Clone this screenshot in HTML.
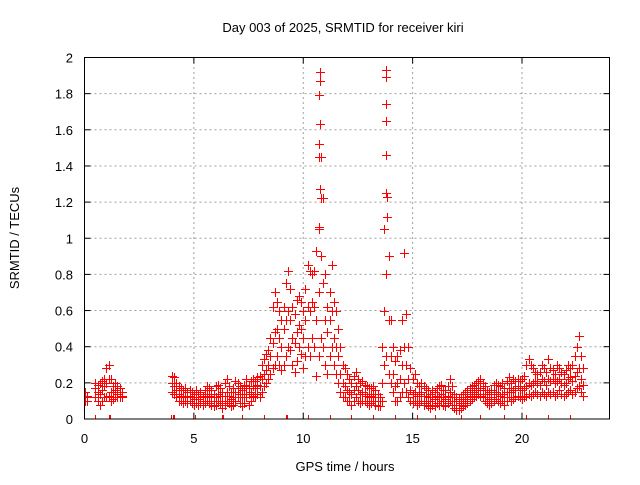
<!DOCTYPE html>
<html><head><meta charset="utf-8"><style>
body{margin:0;background:#fff}
svg text{font-family:"Liberation Sans",sans-serif;font-size:13px;fill:#000}
</style></head><body>
<svg id="chart" width="640" height="480" viewBox="0 0 640 480" xmlns="http://www.w3.org/2000/svg">
<text x="343" y="32" text-anchor="middle">Day 003 of 2025, SRMTID for receiver kiri</text>
<text x="345" y="471" text-anchor="middle">GPS time / hours</text>
<text x="19" y="238" text-anchor="middle" transform="rotate(-90 19 238)">SRMTID / TECUs</text>
<g id="grid"></g>
<g id="ticks"></g>
<defs><clipPath id="pc"><rect x="84.5" y="57.5" width="525" height="361.5"/></clipPath></defs>
<g id="marks" clip-path="url(#pc)"></g>
<rect x="84.5" y="57.5" width="525" height="361.5" fill="none" stroke="#000" stroke-width="1"/>
</svg>
<script>
const times=[0,0.1,0.5,0.6,0.7,0.8,0.9,1.0,1.1,1.2,1.3,1.4,1.5,1.6,1.7,
4.0,4.1,4.2,4.3,4.4,4.5,4.6,4.7,4.8,4.9,5.0,5.1,5.2,5.3,5.4,5.5,5.6,5.7,5.8,5.9,
6.0,6.1,6.2,6.3,6.4,6.5,6.6,6.7,6.8,6.9,7.0,7.1,7.2,7.3,7.4,7.5,7.6,7.7,7.8,7.9,
8.0,8.1,8.2,8.3,8.4,8.5,8.6,8.7,8.8,8.9,9.0,9.1,9.2,9.3,9.4,9.5,9.6,9.7,9.8,9.9,
10.0,10.1,10.2,10.3,10.4,10.5,10.6,10.7,10.8,10.9,11.0,11.1,11.2,11.3,11.4,11.5,11.6,11.7,11.8,11.9,
12.0,12.1,12.2,12.3,12.4,12.5,12.6,12.7,12.8,12.9,13.0,13.1,13.2,13.3,13.4,13.5,13.6,13.7,13.8,13.9,
14.0,14.1,14.2,14.3,14.4,14.5,14.6,14.7,14.8,14.9,15.0,15.1,15.2,15.3,15.4,15.5,15.6,15.7,15.8,15.9,
16.0,16.1,16.2,16.3,16.4,16.5,16.6,16.7,16.8,16.9,17.0,17.1,17.2,17.3,17.4,17.5,17.6,17.7,17.8,17.9,
18.0,18.1,18.2,18.3,18.4,18.5,18.6,18.7,18.8,18.9,19.0,19.1,19.2,19.3,19.4,19.5,19.6,19.7,19.8,19.9,
20.0,20.1,20.2,20.3,20.4,20.5,20.6,20.7,20.8,20.9,21.0,21.1,21.2,21.3,21.4,21.5,21.6,21.7,21.8,21.9,
22.0,22.1,22.2,22.3,22.4,22.5,22.6,22.7,22.8];
const low=[.10,.10,.12,.10,.08,.10,.12,.12,.13,.10,.11,.12,.12,.12,.12,
.15,.14,.12,.10,.10,.09,.10,.09,.10,.09,.08,.09,.08,.09,.08,.09,.10,.09,.08,.07,
.08,.10,.09,.06,.08,.10,.09,.07,.08,.10,.12,.09,.07,.09,.12,.08,.10,.13,.12,.14,
.12,.15,.18,.20,.22,.25,.28,.30,.35,.30,.27,.30,.35,.40,.38,.30,.26,.32,.40,.36,
.28,.35,.40,.35,.45,.40,.24,.35,.45,.40,.30,.25,.35,.40,.30,.25,.20,.15,.12,.12,
.10,.10,.08,.10,.12,.10,.09,.10,.10,.09,.08,.09,.10,.08,.07,.07,.10,.30,.35,.25,
.20,.15,.10,.10,.12,.15,.20,.15,.12,.10,.09,.10,.08,.09,.10,.08,.09,.07,.06,.08,
.07,.09,.08,.10,.08,.07,.09,.10,.08,.06,.05,.05,.06,.07,.08,.09,.10,.11,.12,.13,
.14,.13,.12,.10,.09,.08,.09,.10,.11,.10,.09,.10,.08,.10,.12,.10,.11,.12,.13,.12,
.11,.12,.13,.14,.13,.14,.15,.14,.13,.15,.14,.13,.15,.14,.15,.13,.14,.16,.14,.13,
.14,.15,.16,.14,.15,.17,.18,.15,.13];
const mid=[.13,.12,.17,.15,.14,.16,.18,.20,.22,.15,.15,.16,.14,.15,.13,
.20,.18,.16,.14,.13,.12,.13,.12,.13,.12,.11,.12,.11,.12,.10,.12,.14,.13,.12,.10,
.12,.14,.13,.10,.13,.15,.13,.11,.12,.15,.17,.14,.12,.14,.17,.14,.15,.18,.17,.19,
.18,.22,.25,.27,.30,.35,.42,.48,.50,.45,.40,.50,.55,.60,.55,.45,.42,.48,.52,.50,
.45,.55,.62,.60,.65,.62,.55,.70,.90,.75,.55,.48,.55,.60,.45,.40,.35,.25,.20,.18,
.16,.15,.14,.16,.18,.16,.14,.15,.14,.13,.12,.13,.14,.12,.10,.10,.20,.60,.80,.55,
.35,.25,.18,.20,.22,.30,.40,.30,.22,.16,.14,.15,.13,.14,.15,.13,.13,.12,.10,.12,
.11,.13,.12,.14,.12,.11,.13,.15,.12,.10,.08,.08,.09,.10,.11,.12,.13,.14,.15,.16,
.17,.17,.16,.14,.12,.11,.12,.14,.15,.14,.13,.14,.12,.15,.17,.15,.16,.17,.18,.17,
.16,.17,.18,.20,.19,.20,.21,.20,.19,.22,.21,.19,.22,.21,.22,.20,.21,.22,.20,.19,
.20,.22,.23,.21,.24,.26,.28,.22,.19];
const high=[.15,.13,.20,.19,.20,.21,.22,.28,.30,.22,.18,.20,.18,.17,.15,
.24,.23,.20,.18,.17,.16,.17,.15,.16,.15,.14,.16,.14,.15,.13,.16,.18,.17,.16,.14,
.18,.19,.17,.15,.20,.22,.18,.15,.17,.21,.20,.18,.16,.19,.22,.18,.21,.22,.21,.23,
.24,.30,.33,.36,.38,.45,.62,.70,.65,.60,.55,.62,.75,.82,.72,.62,.58,.66,.68,.65,
.60,.72,.85,.82,.80,.82,.93,1.05,1.45,1.22,.80,.62,.70,.85,.65,.60,.50,.40,.30,.28,
.25,.22,.20,.24,.26,.22,.20,.21,.19,.18,.17,.17,.18,.16,.14,.12,.40,1.05,1.25,.90,
.55,.40,.32,.35,.38,.55,.92,.58,.40,.28,.22,.25,.20,.18,.20,.18,.17,.16,.14,.16,
.15,.17,.18,.19,.16,.16,.18,.22,.18,.14,.12,.11,.12,.14,.15,.16,.17,.18,.19,.20,
.21,.22,.20,.18,.16,.15,.16,.19,.20,.19,.18,.20,.17,.21,.23,.20,.22,.21,.22,.21,
.22,.24,.30,.33,.30,.28,.26,.25,.26,.30,.28,.26,.33,.28,.27,.25,.30,.28,.26,.25,
.27,.30,.28,.30,.35,.40,.46,.35,.28];
const peakTimes=[10.75,10.77,10.74,10.76,10.73,10.74,10.78,10.80,10.70,13.78,13.77,13.79,13.78,13.80,13.82,13.85];
const peakValues=[1.92,1.87,1.79,1.63,1.52,1.45,1.27,1.22,1.06,1.93,1.89,1.74,1.65,1.46,1.23,1.12];
const zeroTimes=[0.5,1.1,1.15,3.95,4.05,4.1,5.05,6.3,6.35,7.2,8.2,9.2,9.25,10.2,11.2,12.2,13.2,14.2,15.2,16.0,17.2,18.1,19.2,20.2,21.2,22.2];
const xTicks=[0,5,10,15,20];
const yTicks=[0,0.2,0.4,0.6,0.8,1,1.2,1.4,1.6,1.8,2];
const yTickLabels=["0","0.2","0.4","0.6","0.8","1","1.2","1.4","1.6","1.8","2"];

const X0=84.5,X1=609.5,Y0=419,Y1=57.5;
const xs=t=>X0+(t/24)*(X1-X0);
const ys=v=>Y0-(v/2)*(Y0-Y1);
const NS="http://www.w3.org/2000/svg";
const grid=document.getElementById('grid'),ticks=document.getElementById('ticks'),marks=document.getElementById('marks');
function mk(tag,attrs,parent){const e=document.createElementNS(NS,tag);for(const k in attrs)e.setAttribute(k,attrs[k]);parent.appendChild(e);return e;}
xTicks.forEach(t=>{
  const x=xs(t);
  if(t>0){const g=mk('line',{x1:x,x2:x,y1:Y0,y2:Y1,stroke:'#a0a0a0','stroke-dasharray':'2,3'},grid);
  
  }
  mk('line',{x1:x,x2:x,y1:Y0,y2:Y0-6,stroke:'#000'},ticks);
  mk('line',{x1:x,x2:x,y1:Y1,y2:Y1+6,stroke:'#000'},ticks);
  const tx=mk('text',{x:x,y:443,'text-anchor':'middle'},ticks);tx.textContent=t;
  
  
});
yTicks.forEach((v,i)=>{
  const y=ys(v);
  if(v>0&&v<2){const g=mk('line',{x1:X0,x2:X1,y1:y,y2:y,stroke:'#a0a0a0','stroke-dasharray':'2,3'},grid);
  
  }
  mk('line',{x1:X0,x2:X0+6,y1:y,y2:y,stroke:'#000'},ticks);
  mk('line',{x1:X1,x2:X1-6,y1:y,y2:y,stroke:'#000'},ticks);
  const tx=mk('text',{x:73,y:y+5,'text-anchor':'end'},ticks);tx.textContent=yTickLabels[i];
  
  
});
let d='';
function plus(t,v){const x=Math.round(xs(t)),y=Math.round(ys(v));d+=`M${x-4} ${y}h9v1h-9zM${x} ${y-4}h1v9h-1z`;}
times.forEach((t,i)=>{plus(t,low[i]);plus(t,mid[i]);plus(t,high[i]);});
peakTimes.forEach((t,i)=>plus(t,peakValues[i]));
zeroTimes.forEach(t=>plus(t,0));
const p=mk('path',{d:d,fill:'#ff0000','fill-rule':'nonzero',stroke:'none','shape-rendering':'crispEdges'},marks);


</script>
</body></html>
